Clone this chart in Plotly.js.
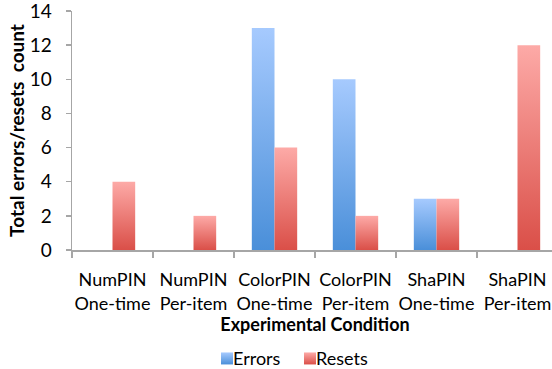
<!DOCTYPE html>
<html>
<head>
<meta charset="utf-8">
<script src="https://cdn.plot.ly/plotly-3.0.1.min.js"></script>
<style>
html,body{margin:0;padding:0;overflow:hidden;background:#fff;}
#chart{width:558px;height:369px;}
</style>
</head>
<body>
<div id="chart"></div>
<script>
var categories = ["NumPIN<br>One-time","NumPIN<br>Per-item","ColorPIN<br>One-time","ColorPIN<br>Per-item","ShaPIN<br>One-time","ShaPIN<br>Per-item"];
var errors = [0, 0, 13, 10, 3, 0];
var resets = [4, 2, 6, 2, 3, 12];
var yTickVals = [0, 2, 4, 6, 8, 10, 12, 14];

var FONT = "Lato, 'Liberation Sans', Arial, sans-serif";
var AX = "#a6a6a6";

var traces = [
  {type:"bar", name:"Errors", x:categories, y:errors, marker:{color:"#78aeea", line:{width:0}}, hoverinfo:"none"},
  {type:"bar", name:"Resets", x:categories, y:resets, marker:{color:"#ec7f79", line:{width:0}}, hoverinfo:"none"}
];

var layout = {
  width:558, height:369,
  margin:{l:72, r:0, t:11, b:119, autoexpand:false},
  paper_bgcolor:"#fff", plot_bgcolor:"#fff",
  font:{family:FONT, size:18, color:"#000"},
  barmode:"group", bargap:0.44, bargroupgap:0,
  showlegend:true,
  legend:{orientation:"h", x:0.249, xanchor:"left", y:-0.455, yanchor:"middle", font:{size:18},
          tracegroupgap:0, entrywidth:38, entrywidthmode:"pixels", borderwidth:0},
  xaxis:{
    type:"category", tickson:"boundaries", ticks:"outside", ticklen:6, tickwidth:1.5, tickcolor:AX,
    showline:true, linecolor:AX, linewidth:1.5, showgrid:false, zeroline:false, tickangle:0,
    ticklabelstandoff:13, tickfont:{size:18},
    title:{text:"<b>Experimental Condition</b>", font:{size:18}, standoff:5}
  },
  yaxis:{
    range:[0,14], tickvals:yTickVals, ticks:"outside", ticklen:5, tickwidth:1.5, tickcolor:AX,
    showline:true, linecolor:AX, linewidth:1.5, showgrid:false, zeroline:false,
    ticklabelstandoff:10, ticklabeloverflow:"allow", tickfont:{size:19},
    title:{text:"<b>Total errors/resets\u00a0 count</b>", font:{size:19}, standoff:0}
  }
};

function addGradients(gd){
  var svg = gd.querySelector("svg.main-svg");
  if(!svg) return;
  var defs = svg.querySelector("defs");
  var NS = "http://www.w3.org/2000/svg";
  if(!svg.querySelector("#gBlue")){
    var specs = [["gBlue","#a6cafe","#4a8fd9"],["gRed","#fdaaa7","#da4f48"]];
    specs.forEach(function(s){
      var g = document.createElementNS(NS,"linearGradient");
      g.setAttribute("id",s[0]); g.setAttribute("x1","0"); g.setAttribute("y1","0"); g.setAttribute("x2","0"); g.setAttribute("y2","1");
      var a = document.createElementNS(NS,"stop"); a.setAttribute("offset","0"); a.setAttribute("stop-color",s[1]);
      var b = document.createElementNS(NS,"stop"); b.setAttribute("offset","1"); b.setAttribute("stop-color",s[2]);
      g.appendChild(a); g.appendChild(b); defs.appendChild(g);
    });
  }
  var ids = ["url(#gBlue)","url(#gRed)"];
  var tr = gd.querySelectorAll(".barlayer .trace");
  tr.forEach(function(t,i){ t.querySelectorAll("path").forEach(function(p){ p.style.fill = ids[i]; }); });
  gd.querySelectorAll(".legend .scrollbox, .legend [clip-path]").forEach(function(n){ n.removeAttribute("clip-path"); });
  var lt = gd.querySelectorAll(".legend .traces");
  lt.forEach(function(t,i){
    var lp = t.querySelector(".legendpoints");
    if(lp) lp.setAttribute("transform","translate(14,0)");
    t.querySelectorAll(".legendpoints path").forEach(function(p){ p.style.fill = ids[i]; });
  });
}

var gd = document.getElementById("chart");
Plotly.newPlot(gd, traces, layout, {displayModeBar:false, staticPlot:true}).then(function(){
  addGradients(gd);
  gd.on && gd.on("plotly_afterplot", function(){ addGradients(gd); });
});
</script>
</body>
</html>
